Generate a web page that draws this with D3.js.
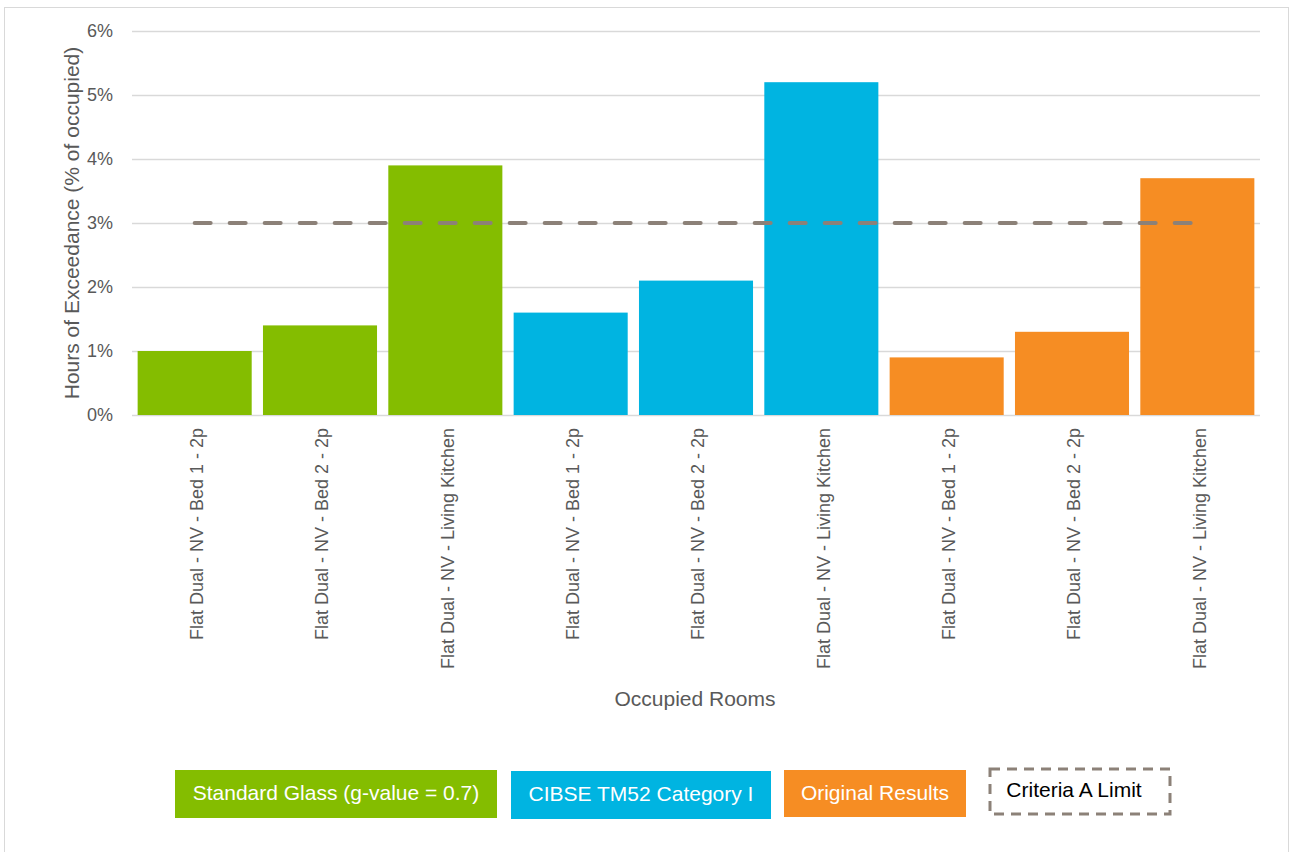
<!DOCTYPE html>
<html><head><meta charset="utf-8">
<script src="https://cdn.jsdelivr.net/npm/d3@7"></script>
<style>
html,body{margin:0;padding:0;background:#fff;}
svg text{font-family:Arial,"Liberation Sans",sans-serif;}
</style></head>
<body>
<svg id="c" width="1296" height="852"></svg>
<script>
const categories = [
  "Flat Dual - NV - Bed 1 - 2p","Flat Dual - NV - Bed 2 - 2p","Flat Dual - NV - Living Kitchen",
  "Flat Dual - NV - Bed 1 - 2p","Flat Dual - NV - Bed 2 - 2p","Flat Dual - NV - Living Kitchen",
  "Flat Dual - NV - Bed 1 - 2p","Flat Dual - NV - Bed 2 - 2p","Flat Dual - NV - Living Kitchen"];
const values = [1.0, 1.4, 3.9, 1.6, 2.1, 5.2, 0.9, 1.3, 3.7];
const groups = [0,0,0,1,1,1,2,2,2];
const seriesNames = ["Standard Glass (g-value = 0.7)","CIBSE TM52 Category I","Original Results"];
const seriesColors = ["#84bd00","#00b4e1","#f68d23"];
const limitValue = 3;
const limitName = "Criteria A Limit";
const yTicks = [0,1,2,3,4,5,6];

const svg = d3.select("#c");
svg.append("rect").attr("x",4.5).attr("y",7.5).attr("width",1284).attr("height",850)
  .attr("fill","#fff").attr("stroke","#d9d9d9").attr("stroke-width",1);

const pL=132, pR=1260, pT=31, pB=415;
const x = d3.scaleBand().domain(d3.range(categories.length)).range([pL,pR]).paddingInner(0.09).paddingOuter(0.045);
const y = d3.scaleLinear().domain([0,6]).range([pB,pT]);

const g = svg.append("g");
g.selectAll("line.grid").data(yTicks).join("line")
  .attr("x1",pL).attr("x2",pR).attr("y1",d=>Math.round(y(d))+0.5).attr("y2",d=>Math.round(y(d))+0.5)
  .attr("stroke","#d9d9d9").attr("stroke-width",1.3);

const yAxis = d3.axisLeft(y).tickValues(yTicks).tickFormat(d=>d+"%").tickSize(0).tickPadding(19);
const ya = svg.append("g").attr("transform",`translate(${pL},0)`).call(yAxis);
ya.select(".domain").remove();
ya.selectAll("text").attr("font-size",18).attr("fill","#595959");

g.selectAll("rect.bar").data(values).join("rect")
  .attr("x",(d,i)=>x(i)).attr("width",x.bandwidth())
  .attr("y",d=>y(d)).attr("height",d=>pB-y(d))
  .attr("fill",(d,i)=>seriesColors[groups[i]]);

// limit line
const xc = i => x(i)+x.bandwidth()/2;
svg.append("line").attr("x1",xc(0)).attr("x2",xc(categories.length-1))
  .attr("y1",y(limitValue)).attr("y2",y(limitValue))
  .attr("stroke","#8c8178").attr("stroke-width",4).attr("stroke-linecap","round")
  .attr("stroke-dasharray","16,19");

// x labels
const xAxis = d3.axisBottom(x).tickSize(0).tickFormat(i=>categories[i]);
const xa = svg.append("g").attr("transform",`translate(0,${pB})`).call(xAxis);
xa.select(".domain").remove();
xa.selectAll("text").attr("font-size",18).attr("fill","#595959")
  .attr("transform","rotate(-90)").attr("text-anchor","end")
  .attr("x",-13).attr("y",2).attr("dy","0.35em");

svg.append("text").attr("x",695).attr("y",706).attr("text-anchor","middle")
  .attr("font-size",21).attr("fill","#595959").text("Occupied Rooms");
svg.append("text").attr("transform",`translate(79,${(pT+pB)/2}) rotate(-90)`)
  .attr("text-anchor","middle").attr("font-size",21).attr("fill","#595959")
  .text("Hours of Exceedance (% of occupied)");

// legend
const leg = [
  {x:175,y:770,w:322,h:48},{x:511,y:771,w:260,h:48},{x:784,y:770,w:182,h:47}];
leg.forEach((b,i)=>{
  svg.append("rect").attr("x",b.x).attr("y",b.y).attr("width",b.w).attr("height",b.h).attr("fill",seriesColors[i]);
  svg.append("text").attr("x",b.x+b.w/2).attr("y",b.y+b.h/2-1).attr("dy","0.35em").attr("text-anchor","middle")
    .attr("font-size",21).attr("fill","#fff").text(seriesNames[i]);
});
svg.append("rect").attr("x",990).attr("y",769).attr("width",180).attr("height",45)
  .attr("fill","#fff").attr("stroke","#8c8178").attr("stroke-width",3).attr("stroke-dasharray","10,7");
svg.append("text").attr("x",1074).attr("y",790).attr("dy","0.35em").attr("text-anchor","middle")
  .attr("font-size",21).attr("fill","#000").text(limitName);
</script>
</body></html>
